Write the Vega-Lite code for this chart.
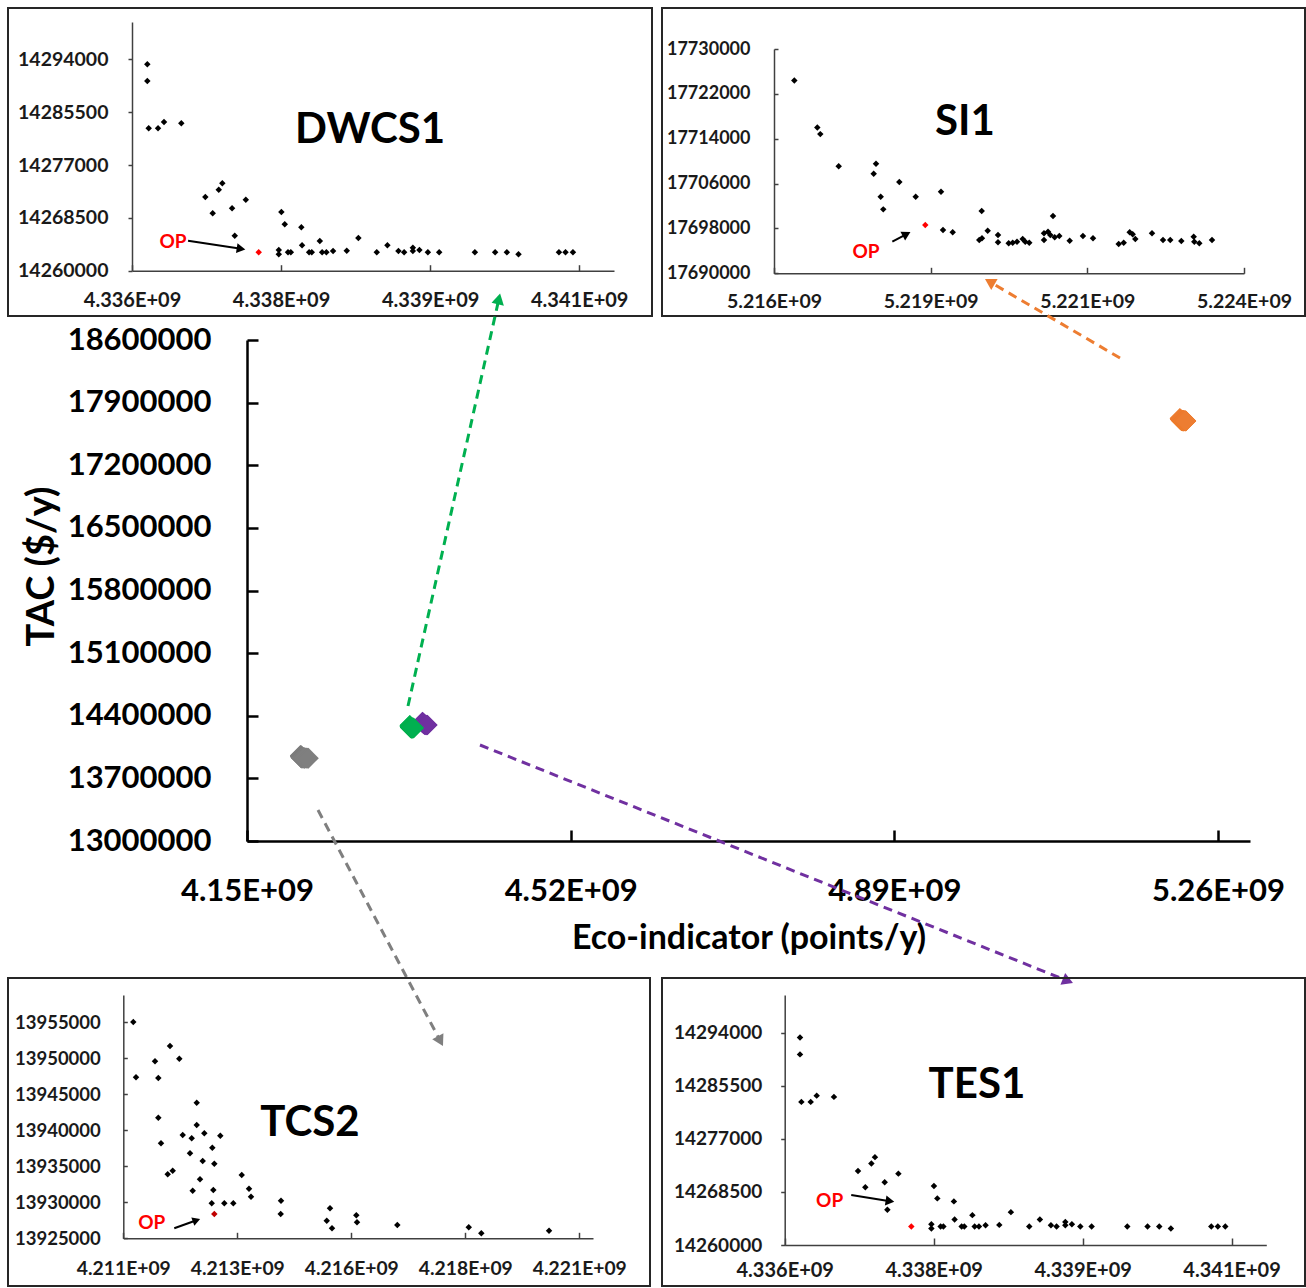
{
  "$schema": "https://vega.github.io/schema/vega-lite/v6.json",
  "background": "white",
  "padding": {"left": 7, "top": 7, "right": 0, "bottom": 0},
  "bounds": "flush",
  "align": {"row": "each", "column": "none"},
  "spacing": {"row": 3, "column": 10},
  "columns": 2,
  "config": {
    "font": "Lato",
    "view": {"stroke": null},
    "axis": {"grid": false, "labelFont": "Lato", "labelFontWeight": "bold", "labelFontSize": 20, "labelColor": "#1a1a1a", "domainColor": "#404040", "domainWidth": 1.5, "tickColor": "#404040", "tickWidth": 1.5, "labelFlush": false, "labelOverlap": false, "titleFont": "Lato"},
    "text": {"font": "Lato", "fontWeight": "bold"}
  },
  "datasets": {
    "DWCS1": [
      {"x": 4336154000, "y": 14293200, "op": false}, {"x": 4336154000, "y": 14290500, "op": false},
      {"x": 4336168000, "y": 14282900, "op": false}, {"x": 4336262000, "y": 14282900, "op": false},
      {"x": 4336322000, "y": 14283900, "op": false}, {"x": 4336496000, "y": 14283700, "op": false},
      {"x": 4336738000, "y": 14271850, "op": false}, {"x": 4336812000, "y": 14269230, "op": false},
      {"x": 4336873000, "y": 14273030, "op": false}, {"x": 4336909000, "y": 14274060, "op": false},
      {"x": 4337007000, "y": 14270040, "op": false}, {"x": 4337145000, "y": 14271420, "op": false},
      {"x": 4337034000, "y": 14265630, "op": false}, {"x": 4337275000, "y": 14262960, "op": true},
      {"x": 4337477000, "y": 14262640, "op": false}, {"x": 4337477000, "y": 14263330, "op": false},
      {"x": 4337503000, "y": 14269440, "op": false}, {"x": 4337537000, "y": 14267460, "op": false},
      {"x": 4337570000, "y": 14262960, "op": false}, {"x": 4337598000, "y": 14262960, "op": false},
      {"x": 4337704000, "y": 14266980, "op": false}, {"x": 4337711000, "y": 14264090, "op": false},
      {"x": 4337782000, "y": 14262960, "op": false}, {"x": 4337809000, "y": 14262960, "op": false},
      {"x": 4337890000, "y": 14264780, "op": false}, {"x": 4337913000, "y": 14262960, "op": false},
      {"x": 4337956000, "y": 14262960, "op": false}, {"x": 4338023000, "y": 14263170, "op": false},
      {"x": 4338161000, "y": 14263220, "op": false}, {"x": 4338278000, "y": 14265260, "op": false},
      {"x": 4338463000, "y": 14262960, "op": false}, {"x": 4338570000, "y": 14264090, "op": false},
      {"x": 4338681000, "y": 14263170, "op": false}, {"x": 4338738000, "y": 14262960, "op": false},
      {"x": 4338826000, "y": 14263700, "op": false}, {"x": 4338826000, "y": 14263170, "op": false},
      {"x": 4338892000, "y": 14263330, "op": false}, {"x": 4338977000, "y": 14262960, "op": false},
      {"x": 4339091000, "y": 14262960, "op": false}, {"x": 4339450000, "y": 14262960, "op": false},
      {"x": 4339654000, "y": 14262960, "op": false}, {"x": 4339772000, "y": 14262960, "op": false},
      {"x": 4339889000, "y": 14262640, "op": false}, {"x": 4340296000, "y": 14262960, "op": false},
      {"x": 4340362000, "y": 14262960, "op": false}, {"x": 4340437000, "y": 14262960, "op": false}
    ],
    "SI1": [
      {"x": 5216346000, "y": 17724390, "op": false}, {"x": 5216737000, "y": 17716020, "op": false},
      {"x": 5216788000, "y": 17714820, "op": false}, {"x": 5217101000, "y": 17709070, "op": false},
      {"x": 5217736000, "y": 17709530, "op": false}, {"x": 5217697000, "y": 17707750, "op": false},
      {"x": 5217816000, "y": 17703650, "op": false}, {"x": 5217860000, "y": 17701400, "op": false},
      {"x": 5218133000, "y": 17706270, "op": false}, {"x": 5218412000, "y": 17703650, "op": false},
      {"x": 5218575000, "y": 17698610, "op": true}, {"x": 5218843000, "y": 17704540, "op": false},
      {"x": 5218877000, "y": 17697720, "op": false}, {"x": 5219042000, "y": 17697310, "op": false},
      {"x": 5219494000, "y": 17695930, "op": false}, {"x": 5219535000, "y": 17701100, "op": false},
      {"x": 5219637000, "y": 17697590, "op": false}, {"x": 5219540000, "y": 17696240, "op": false},
      {"x": 5219813000, "y": 17696830, "op": false}, {"x": 5219813000, "y": 17695520, "op": false},
      {"x": 5219995000, "y": 17695350, "op": false}, {"x": 5220063000, "y": 17695450, "op": false},
      {"x": 5220136000, "y": 17695630, "op": false}, {"x": 5220233000, "y": 17696110, "op": false},
      {"x": 5220277000, "y": 17695630, "op": false}, {"x": 5220345000, "y": 17695450, "op": false},
      {"x": 5220596000, "y": 17697130, "op": false}, {"x": 5220596000, "y": 17695930, "op": false},
      {"x": 5220664000, "y": 17697410, "op": false}, {"x": 5220703000, "y": 17696830, "op": false},
      {"x": 5220749000, "y": 17700210, "op": false}, {"x": 5220778000, "y": 17696420, "op": false},
      {"x": 5220856000, "y": 17696650, "op": false}, {"x": 5221033000, "y": 17695810, "op": false},
      {"x": 5221259000, "y": 17696650, "op": false}, {"x": 5221430000, "y": 17696240, "op": false},
      {"x": 5221867000, "y": 17695220, "op": false}, {"x": 5221952000, "y": 17695450, "op": false},
      {"x": 5222054000, "y": 17697310, "op": false}, {"x": 5222105000, "y": 17696950, "op": false},
      {"x": 5222150000, "y": 17696110, "op": false}, {"x": 5222434000, "y": 17697130, "op": false},
      {"x": 5222621000, "y": 17695930, "op": false}, {"x": 5222745000, "y": 17695930, "op": false},
      {"x": 5222933000, "y": 17695760, "op": false}, {"x": 5223144000, "y": 17696520, "op": false},
      {"x": 5223154000, "y": 17695630, "op": false}, {"x": 5223239000, "y": 17695350, "op": false},
      {"x": 5223455000, "y": 17695930, "op": false}
    ],
    "TCS2": [
      {"x": 4211019000, "y": 13955000, "op": false}, {"x": 4211079000, "y": 13947330, "op": false},
      {"x": 4211495000, "y": 13949550, "op": false}, {"x": 4211568000, "y": 13947230, "op": false},
      {"x": 4211824000, "y": 13951670, "op": false}, {"x": 4212028000, "y": 13949910, "op": false},
      {"x": 4211568000, "y": 13941730, "op": false}, {"x": 4211627000, "y": 13938180, "op": false},
      {"x": 4211774000, "y": 13933880, "op": false}, {"x": 4211883000, "y": 13934380, "op": false},
      {"x": 4212103000, "y": 13939330, "op": false}, {"x": 4212300000, "y": 13938870, "op": false},
      {"x": 4212263000, "y": 13936790, "op": false}, {"x": 4212410000, "y": 13943810, "op": false},
      {"x": 4212410000, "y": 13940720, "op": false}, {"x": 4212577000, "y": 13939560, "op": false},
      {"x": 4212541000, "y": 13935720, "op": false}, {"x": 4212482000, "y": 13933180, "op": false},
      {"x": 4212322000, "y": 13931600, "op": false}, {"x": 4212752000, "y": 13937570, "op": false},
      {"x": 4212796000, "y": 13935350, "op": false}, {"x": 4212927000, "y": 13939230, "op": false},
      {"x": 4212774000, "y": 13931700, "op": false}, {"x": 4212739000, "y": 13929860, "op": false},
      {"x": 4212796000, "y": 13928370, "op": true}, {"x": 4213015000, "y": 13929860, "op": false},
      {"x": 4213212000, "y": 13929860, "op": false}, {"x": 4213397000, "y": 13933780, "op": false},
      {"x": 4213557000, "y": 13931880, "op": false}, {"x": 4213600000, "y": 13930770, "op": false},
      {"x": 4214258000, "y": 13930220, "op": false}, {"x": 4214252000, "y": 13928370, "op": false},
      {"x": 4215333000, "y": 13929160, "op": false}, {"x": 4215261000, "y": 13927440, "op": false},
      {"x": 4215377000, "y": 13926390, "op": false}, {"x": 4215910000, "y": 13928190, "op": false},
      {"x": 4215925000, "y": 13927220, "op": false}, {"x": 4216809000, "y": 13926850, "op": false},
      {"x": 4218375000, "y": 13926530, "op": false}, {"x": 4218651000, "y": 13925690, "op": false},
      {"x": 4220136000, "y": 13926050, "op": false}
    ],
    "mainTES1": [
      {"x": 4350600000, "y": 14330000}, {"x": 4350600000, "y": 14326000}, {"x": 4350700000, "y": 14319000},
      {"x": 4351300000, "y": 14319500}, {"x": 4352000000, "y": 14308000}, {"x": 4352500000, "y": 14309500},
      {"x": 4353100000, "y": 14300000}, {"x": 4353600000, "y": 14298500}, {"x": 4354600000, "y": 14297500},
      {"x": 4355600000, "y": 14297000}, {"x": 4356300000, "y": 14297000}
    ],
    "notes": [
      {"panel": "DWCS1", "kind": "title", "label": "DWCS1", "x": 4338396000, "y": 14282630},
      {"panel": "DWCS1", "kind": "op", "label": "OP", "x": 4336413000, "y": 14264660},
      {"panel": "DWCS1", "kind": "line", "x": 4336564000, "y": 14264825, "x2": 4337097000, "y2": 14263522},
      {"panel": "DWCS1", "kind": "head", "x": 4337097000, "y": 14263522},
      {"panel": "SI1", "kind": "title", "label": "SI1", "x": 5219251000, "y": 17716960},
      {"panel": "SI1", "kind": "op", "label": "OP", "x": 5217566000, "y": 17693850},
      {"panel": "SI1", "kind": "line", "x": 5218014000, "y": 17695631, "x2": 5218257000, "y2": 17696985},
      {"panel": "SI1", "kind": "head", "x": 5218257000, "y": 17696985},
      {"panel": "TCS2", "kind": "title", "label": "TCS2", "x": 4214894000, "y": 13940990},
      {"panel": "TCS2", "kind": "op", "label": "OP", "x": 4211423000, "y": 13927190},
      {"panel": "TCS2", "kind": "line", "x": 4211918000, "y": 13926387, "x2": 4212405000, "y2": 13927497},
      {"panel": "TCS2", "kind": "head", "x": 4212405000, "y": 13927497},
      {"panel": "TES1", "kind": "title", "label": "TES1", "x": 4337936000, "y": 14285620},
      {"panel": "TES1", "kind": "op", "label": "OP", "x": 4336453000, "y": 14267080},
      {"panel": "TES1", "kind": "line", "x": 4336670000, "y": 14268005, "x2": 4337060000, "y2": 14267012},
      {"panel": "TES1", "kind": "head", "x": 4337060000, "y": 14267012}
    ],
    "mainNotes": [
      {"series": "gray", "kind": "line", "x": 4231160000, "y": 13346510, "x2": 4371090000, "y2": 10763360},
      {"series": "gray", "kind": "head", "x": 4371090000, "y": 10763360},
      {"series": "purple", "kind": "line", "x": 4416350000, "y": 14073050, "x2": 5088410000, "y2": 11435140},
      {"series": "purple", "kind": "head", "x": 5088410000, "y": 11435140},
      {"series": "green", "kind": "line", "x": 4334050000, "y": 14508980, "x2": 4437960000, "y2": 19059370},
      {"series": "green", "kind": "head", "x": 4437960000, "y": 19059370},
      {"series": "orange", "kind": "line", "x": 5147970000, "y": 18398780, "x2": 4999020000, "y2": 19250510},
      {"series": "orange", "kind": "head", "x": 4999020000, "y": 19250510}
    ]
  },
  "concat": [
    {
      "width": 644, "height": 308,
      "view": {"stroke": "#262626", "strokeWidth": 2},
      "encoding": {
        "x": {"field": "x", "type": "quantitative",
          "scale": {"domain": [4336000000, 4340850000], "range": [124, 606], "zero": false, "nice": false},
          "axis": {"orient": "bottom", "offset": -45.3, "values": [4336000000, 4337500000, 4339000000, 4340500000], "labelExpr": "format(datum.value / 1e9 + 1e-7, '.3f') + 'E+09'", "tickSize": -6, "labelPadding": 26, "title": null}},
        "y": {"field": "y", "type": "quantitative",
          "scale": {"domain": [14260000, 14300000], "range": [262.7, 14], "zero": false, "nice": false},
          "axis": {"orient": "left", "offset": -124, "values": [14260000, 14268500, 14277000, 14285500, 14294000], "format": "d", "tickSize": 4, "labelPadding": 20, "labelFontSize": 19.5, "title": null}}
      },
      "layer": [
        {"data": {"name": "DWCS1"}, "transform": [{"filter": "!datum.op"}], "mark": {"type": "point", "shape": "diamond", "filled": true, "size": 42, "color": "#000000", "opacity": 1}},
        {"data": {"name": "DWCS1"}, "transform": [{"filter": "datum.op"}], "mark": {"type": "point", "shape": "diamond", "filled": true, "size": 42, "color": "#FF0000", "opacity": 1}},
        {"data": {"name": "notes"}, "transform": [{"filter": "datum.panel === 'DWCS1' && datum.kind === 'title'"}], "mark": {"type": "text", "fontSize": 42, "fontWeight": "bold", "color": "#000000"}, "encoding": {"text": {"field": "label"}}},
        {"data": {"name": "notes"}, "transform": [{"filter": "datum.panel === 'DWCS1' && datum.kind === 'op'"}], "mark": {"type": "text", "fontSize": 19, "fontWeight": "bold", "color": "#FF0000"}, "encoding": {"text": {"field": "label"}}},
        {"data": {"name": "notes"}, "transform": [{"filter": "datum.panel === 'DWCS1' && datum.kind === 'line'"}], "mark": {"type": "rule", "color": "#000000", "strokeWidth": 2}, "encoding": {"x2": {"field": "x2"}, "y2": {"field": "y2"}}},
        {"data": {"name": "notes"}, "transform": [{"filter": "datum.panel === 'DWCS1' && datum.kind === 'head'"}], "mark": {"type": "point", "shape": "triangle-up", "filled": true, "size": 100, "angle": 98.7, "color": "#000000", "opacity": 1}}
      ]
    },
    {
      "width": 643, "height": 308,
      "view": {"stroke": "#262626", "strokeWidth": 2},
      "encoding": {
        "x": {"field": "x", "type": "quantitative",
          "scale": {"domain": [5216000000, 5224000000], "range": [112, 582], "zero": false, "nice": false},
          "axis": {"orient": "bottom", "offset": -42.7, "values": [5216000000, 5218666667, 5221333333, 5224000000], "labelExpr": "format(datum.value / 1e9 + 1e-7, '.3f') + 'E+09'", "tickSize": -6, "labelPadding": 25, "labelFontSize": 19.5, "title": null}},
        "y": {"field": "y", "type": "quantitative",
          "scale": {"domain": [17690000, 17730000], "range": [265.3, 41], "zero": false, "nice": false},
          "axis": {"orient": "left", "offset": -112, "values": [17690000, 17698000, 17706000, 17714000, 17722000, 17730000], "format": "d", "tickSize": -4, "labelPadding": 28, "labelFontSize": 18, "title": null}}
      },
      "layer": [
        {"data": {"name": "SI1"}, "transform": [{"filter": "!datum.op"}], "mark": {"type": "point", "shape": "diamond", "filled": true, "size": 42, "color": "#000000", "opacity": 1}},
        {"data": {"name": "SI1"}, "transform": [{"filter": "datum.op"}], "mark": {"type": "point", "shape": "diamond", "filled": true, "size": 42, "color": "#FF0000", "opacity": 1}},
        {"data": {"name": "notes"}, "transform": [{"filter": "datum.panel === 'SI1' && datum.kind === 'title'"}], "mark": {"type": "text", "fontSize": 42, "fontWeight": "bold", "color": "#000000"}, "encoding": {"text": {"field": "label"}}},
        {"data": {"name": "notes"}, "transform": [{"filter": "datum.panel === 'SI1' && datum.kind === 'op'"}], "mark": {"type": "text", "fontSize": 19, "fontWeight": "bold", "color": "#FF0000"}, "encoding": {"text": {"field": "label"}}},
        {"data": {"name": "notes"}, "transform": [{"filter": "datum.panel === 'SI1' && datum.kind === 'line'"}], "mark": {"type": "rule", "color": "#000000", "strokeWidth": 2}, "encoding": {"x2": {"field": "x2"}, "y2": {"field": "y2"}}},
        {"data": {"name": "notes"}, "transform": [{"filter": "datum.panel === 'SI1' && datum.kind === 'head'"}], "mark": {"type": "point", "shape": "triangle-up", "filled": true, "size": 100, "angle": 62.1, "color": "#000000", "opacity": 1}}
      ]
    },
    {
      "width": 644, "height": 656,
      "encoding": {
        "x": {"field": "x", "type": "quantitative",
          "scale": {"domain": [4150000000, 5296580000], "range": [239, 1242], "zero": false, "nice": false},
          "axis": {"orient": "bottom", "offset": -134, "values": [4150000000, 4520000000, 4890000000, 5260000000], "labelExpr": "format(datum.value / 1e9, '.2f') + 'E+09'", "tickSize": -11, "tickWidth": 2.5, "tickColor": "#000000", "domainColor": "#000000", "domainWidth": 2.5, "labelFontSize": 31, "labelColor": "#000000", "labelPadding": 46, "title": "Eco-indicator (points/y)", "titleFontSize": 34, "titleFontWeight": "bold", "titleColor": "#000000", "titleY": 97, "titleBaseline": "middle"}},
        "y": {"field": "y", "type": "quantitative",
          "scale": {"domain": [13000000, 18600000], "range": [522, 21], "zero": false, "nice": false},
          "axis": {"orient": "left", "offset": -239, "values": [13000000, 13700000, 14400000, 15100000, 15800000, 16500000, 17200000, 17900000, 18600000], "format": "d", "tickSize": -11, "tickWidth": 2.5, "tickColor": "#000000", "domainColor": "#000000", "domainWidth": 2.5, "labelFontSize": 31, "labelColor": "#000000", "labelPadding": 47, "title": "TAC ($/y)", "titleFontSize": 38, "titleFontWeight": "bold", "titleColor": "#000000", "titleX": -205, "titleY": 247, "titleAngle": -90, "titleBaseline": "middle", "titleAlign": "center"}}
      },
      "layer": [
        {"data": {"name": "TCS2"}, "mark": {"type": "point", "shape": "diamond", "filled": true, "size": 440, "color": "#7F7F7F", "opacity": 1, "clip": false}},
        {"data": {"name": "mainTES1"}, "mark": {"type": "point", "shape": "diamond", "filled": true, "size": 420, "color": "#7030A0", "opacity": 1, "clip": false}},
        {"data": {"name": "DWCS1"}, "mark": {"type": "point", "shape": "diamond", "filled": true, "size": 420, "color": "#00B050", "opacity": 1, "clip": false}},
        {"data": {"name": "SI1"}, "mark": {"type": "point", "shape": "diamond", "filled": true, "size": 420, "color": "#ED7D31", "opacity": 1, "clip": false}},
        {"data": {"name": "mainNotes"}, "transform": [{"filter": "datum.kind === 'line'"}], "mark": {"type": "rule", "strokeWidth": 3, "strokeDash": [9, 6], "clip": false},
          "encoding": {"x2": {"field": "x2"}, "y2": {"field": "y2"}, "color": {"field": "series", "type": "nominal", "scale": {"domain": ["gray", "purple", "green", "orange"], "range": ["#7F7F7F", "#7030A0", "#00B050", "#ED7D31"]}, "legend": null}}},
        {"data": {"name": "mainNotes"}, "transform": [{"filter": "datum.kind === 'head' && datum.series === 'gray'"}], "mark": {"type": "point", "shape": "triangle-up", "filled": true, "size": 160, "angle": 152.1, "opacity": 1, "clip": false},
          "encoding": {"color": {"field": "series", "type": "nominal", "legend": null}}},
        {"data": {"name": "mainNotes"}, "transform": [{"filter": "datum.kind === 'head' && datum.series === 'purple'"}], "mark": {"type": "point", "shape": "triangle-up", "filled": true, "size": 160, "angle": 111.9, "opacity": 1, "clip": false},
          "encoding": {"color": {"field": "series", "type": "nominal", "legend": null}}},
        {"data": {"name": "mainNotes"}, "transform": [{"filter": "datum.kind === 'head' && datum.series === 'green'"}], "mark": {"type": "point", "shape": "triangle-up", "filled": true, "size": 160, "angle": 12.6, "opacity": 1, "clip": false},
          "encoding": {"color": {"field": "series", "type": "nominal", "legend": null}}},
        {"data": {"name": "mainNotes"}, "transform": [{"filter": "datum.kind === 'head' && datum.series === 'orange'"}], "mark": {"type": "point", "shape": "triangle-up", "filled": true, "size": 160, "angle": 300.3, "opacity": 1, "clip": false},
          "encoding": {"color": {"field": "series", "type": "nominal", "legend": null}}}
      ]
    },
    {
      "width": 1, "height": 1,
      "data": {"values": []},
      "mark": {"type": "point", "opacity": 0},
      "encoding": {}
    },
    {
      "width": 642, "height": 308,
      "view": {"stroke": "#262626", "strokeWidth": 2},
      "encoding": {
        "x": {"field": "x", "type": "quantitative",
          "scale": {"domain": [4210800000, 4221100000], "range": [115.3, 585], "zero": false, "nice": false},
          "axis": {"orient": "bottom", "offset": -47.7, "values": [4210800000, 4213300000, 4215800000, 4218300000, 4220800000], "labelExpr": "format(datum.value / 1e9 + 1e-7, '.3f') + 'E+09'", "tickSize": -6, "labelPadding": 27, "labelFontSize": 19.3, "title": null}},
        "y": {"field": "y", "type": "quantitative",
          "scale": {"domain": [13925000, 13958750], "range": [260.3, 17], "zero": false, "nice": false},
          "axis": {"orient": "left", "offset": -115.3, "values": [13925000, 13930000, 13935000, 13940000, 13945000, 13950000, 13955000], "format": "d", "tickSize": -4, "labelPadding": 27, "labelFontSize": 18.5, "title": null}}
      },
      "layer": [
        {"data": {"name": "TCS2"}, "transform": [{"filter": "!datum.op"}], "mark": {"type": "point", "shape": "diamond", "filled": true, "size": 42, "color": "#000000", "opacity": 1}},
        {"data": {"name": "TCS2"}, "transform": [{"filter": "datum.op"}], "mark": {"type": "point", "shape": "diamond", "filled": true, "size": 42, "color": "#C00000", "opacity": 1}},
        {"data": {"name": "notes"}, "transform": [{"filter": "datum.panel === 'TCS2' && datum.kind === 'title'"}], "mark": {"type": "text", "fontSize": 42, "fontWeight": "bold", "color": "#000000"}, "encoding": {"text": {"field": "label"}}},
        {"data": {"name": "notes"}, "transform": [{"filter": "datum.panel === 'TCS2' && datum.kind === 'op'"}], "mark": {"type": "text", "fontSize": 19, "fontWeight": "bold", "color": "#FF0000"}, "encoding": {"text": {"field": "label"}}},
        {"data": {"name": "notes"}, "transform": [{"filter": "datum.panel === 'TCS2' && datum.kind === 'line'"}], "mark": {"type": "rule", "color": "#000000", "strokeWidth": 2}, "encoding": {"x2": {"field": "x2"}, "y2": {"field": "y2"}}},
        {"data": {"name": "notes"}, "transform": [{"filter": "datum.panel === 'TCS2' && datum.kind === 'head'"}], "mark": {"type": "point", "shape": "triangle-up", "filled": true, "size": 80, "angle": 70.2, "color": "#000000", "opacity": 1}}
      ]
    },
    {
      "width": 643, "height": 308,
      "view": {"stroke": "#262626", "strokeWidth": 2},
      "encoding": {
        "x": {"field": "x", "type": "quantitative",
          "scale": {"domain": [4336000000, 4340850000], "range": [122.7, 604.3], "zero": false, "nice": false},
          "axis": {"orient": "bottom", "offset": -41, "values": [4336000000, 4337500000, 4339000000, 4340500000], "labelExpr": "format(datum.value / 1e9 + 1e-7, '.3f') + 'E+09'", "tickSize": -7, "labelPadding": 22, "title": null}},
        "y": {"field": "y", "type": "quantitative",
          "scale": {"domain": [14260000, 14300000], "range": [267, 17], "zero": false, "nice": false},
          "axis": {"orient": "left", "offset": -122.7, "values": [14260000, 14268500, 14277000, 14285500, 14294000], "format": "d", "tickSize": 4, "labelPadding": 19, "labelFontSize": 19, "title": null}}
      },
      "layer": [
        {"data": {"name": "DWCS1"}, "transform": [{"filter": "!datum.op"}], "mark": {"type": "point", "shape": "diamond", "filled": true, "size": 42, "color": "#000000", "opacity": 1}},
        {"data": {"name": "DWCS1"}, "transform": [{"filter": "datum.op"}], "mark": {"type": "point", "shape": "diamond", "filled": true, "size": 42, "color": "#FF0000", "opacity": 1}},
        {"data": {"name": "notes"}, "transform": [{"filter": "datum.panel === 'TES1' && datum.kind === 'title'"}], "mark": {"type": "text", "fontSize": 42, "fontWeight": "bold", "color": "#000000"}, "encoding": {"text": {"field": "label"}}},
        {"data": {"name": "notes"}, "transform": [{"filter": "datum.panel === 'TES1' && datum.kind === 'op'"}], "mark": {"type": "text", "fontSize": 19, "fontWeight": "bold", "color": "#FF0000"}, "encoding": {"text": {"field": "label"}}},
        {"data": {"name": "notes"}, "transform": [{"filter": "datum.panel === 'TES1' && datum.kind === 'line'"}], "mark": {"type": "rule", "color": "#000000", "strokeWidth": 2}, "encoding": {"x2": {"field": "x2"}, "y2": {"field": "y2"}}},
        {"data": {"name": "notes"}, "transform": [{"filter": "datum.panel === 'TES1' && datum.kind === 'head'"}], "mark": {"type": "point", "shape": "triangle-up", "filled": true, "size": 100, "angle": 99.1, "color": "#000000", "opacity": 1}}
      ]
    }
  ]
}
